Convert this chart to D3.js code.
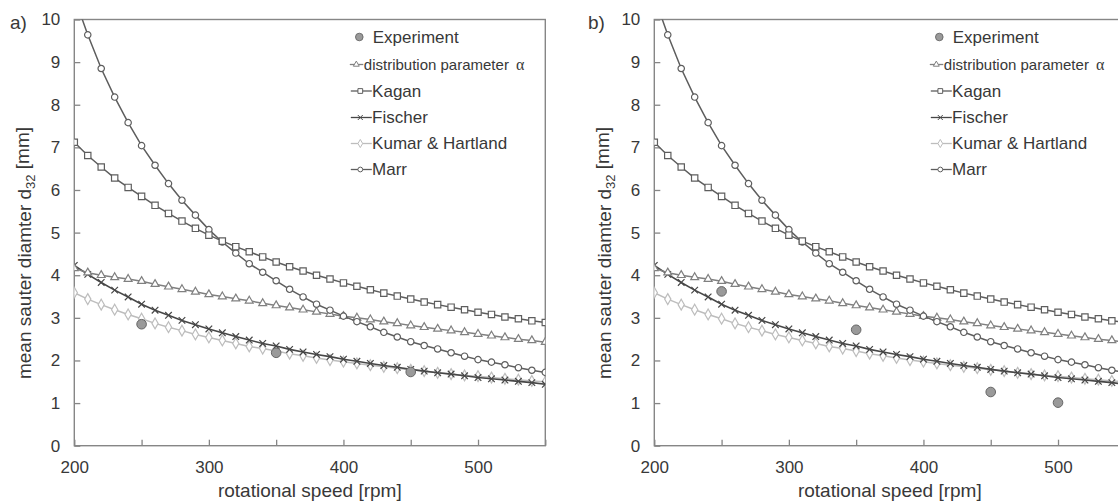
<!DOCTYPE html>
<html>
<head>
<meta charset="utf-8">
<script src="https://cdn.jsdelivr.net/npm/d3@7/dist/d3.min.js"></script>
<style>
  html, body { margin: 0; padding: 0; background: #fff; }
  svg { display: block; font-family: "Liberation Sans", Arial, sans-serif; }
</style>
</head>
<body>
<svg id="chart" width="1118" height="504"></svg>
<script>
// Rotational speed [rpm] at which the correlations are evaluated
const speed = [200, 210, 220, 230, 240, 250, 260, 270, 280, 290, 300, 310, 320, 330, 340, 350, 360, 370,
               380, 390, 400, 410, 420, 430, 440, 450, 460, 470, 480, 490, 500, 510, 520, 530, 540, 550];

// Mean Sauter diameter d32 [mm] predicted by each model
const alphaDist = [4.16, 4.06, 4.00, 3.95, 3.91, 3.86, 3.79, 3.73, 3.67, 3.61, 3.55, 3.50, 3.45, 3.40, 3.34, 3.29, 3.24, 3.19,
                   3.14, 3.09, 3.04, 3.00, 2.96, 2.91, 2.87, 2.82, 2.78, 2.74, 2.70, 2.66, 2.62, 2.58, 2.54, 2.50, 2.47, 2.43];
const kagan = [7.12, 6.81, 6.54, 6.28, 6.06, 5.85, 5.64, 5.45, 5.27, 5.10, 4.94, 4.80, 4.67, 4.55, 4.43, 4.31, 4.20, 4.10,
               4.00, 3.91, 3.82, 3.74, 3.66, 3.58, 3.51, 3.44, 3.37, 3.31, 3.25, 3.19, 3.13, 3.08, 3.02, 2.98, 2.93, 2.89];
const fischer = [4.23, 4.02, 3.83, 3.65, 3.49, 3.32, 3.18, 3.06, 2.94, 2.84, 2.74, 2.65, 2.56, 2.48, 2.40, 2.34, 2.26, 2.20,
                 2.14, 2.09, 2.03, 1.98, 1.93, 1.88, 1.84, 1.79, 1.75, 1.71, 1.68, 1.64, 1.60, 1.57, 1.54, 1.51, 1.48, 1.44];
const kumarHartland = [3.59, 3.44, 3.31, 3.19, 3.08, 2.98, 2.87, 2.78, 2.70, 2.61, 2.54, 2.47, 2.40, 2.33, 2.28, 2.22, 2.16, 2.11,
                       2.06, 2.01, 1.97, 1.93, 1.89, 1.85, 1.82, 1.78, 1.75, 1.71, 1.68, 1.65, 1.63, 1.60, 1.57, 1.55, 1.52, 1.50];
const marr = [10.53, 9.64, 8.85, 8.18, 7.58, 7.04, 6.58, 6.15, 5.76, 5.41, 5.07, 4.78, 4.52, 4.27, 4.07, 3.87, 3.67, 3.49,
              3.32, 3.18, 3.04, 2.91, 2.79, 2.66, 2.55, 2.44, 2.35, 2.27, 2.18, 2.10, 2.02, 1.96, 1.90, 1.83, 1.77, 1.72];

// Measured d32 values
const expSpeedA = [250, 350, 450];
const expValueA = [2.85, 2.18, 1.73];
const expSpeedB = [250, 350, 450, 500];
const expValueB = [3.62, 2.72, 1.26, 1.01];

// Axis ticks
const xTicks = [200, 250, 300, 350, 400, 450, 500, 550];
const xTickLabels = ["200", "", "300", "", "400", "", "500", ""];
const yTicks = [0, 1, 2, 3, 4, 5, 6, 7, 8, 9, 10];

const panelLabels = ["a)", "b)"];
const seriesNames = ["Experiment", "distribution parameter ", "Kagan", "Fischer", "Kumar & Hartland", "Marr"];

// ---------------------------------------------------------------
const svg = d3.select("#chart");
const frameColor = "#868686";
const textColor = "#383838";

const plotTop = 19.5, plotBottom = 445.7, plotW = 471;
const plotH = plotBottom - plotTop;
const x = d3.scaleLinear().domain([200, 550]).range([0, plotW]);
const y = d3.scaleLinear().domain([0, 10]).range([plotH, 0]);

// marker shapes
const symbolTypes = { triangle: d3.symbolTriangle, square: d3.symbolSquare, diamond: d3.symbolDiamond, circle: d3.symbolCircle };
const symbolSizes = { triangle: 27, square: 40, diamond: 34, circle: 32 };
function markerPath(kind, scale) {
  if (kind === "x") { const s = 3.3 * scale; return `M${-s},${-s}L${s},${s}M${-s},${s}L${s},${-s}`; }
  return d3.symbol().type(symbolTypes[kind]).size(symbolSizes[kind] * scale * scale)();
}

const models = [
  { values: kumarHartland, color: "#bdbdbd", width: 1.5, marker: "diamond", fill: "#fff" },
  { values: fischer,       color: "#474747", width: 1.6, marker: "x",       fill: "none" },
  { values: alphaDist,     color: "#808080", width: 1.5, marker: "triangle", fill: "#fff" },
  { values: marr,          color: "#5e5e5e", width: 1.5, marker: "circle",  fill: "#fff" },
  { values: kagan,         color: "#5e5e5e", width: 1.5, marker: "square",  fill: "#fff" }
];

const panels = [
  { ox: 74.3, labelX: 10, expS: expSpeedA, expV: expValueA },
  { ox: 654.3, labelX: 588, expS: expSpeedB, expV: expValueB }
];

const defs = svg.append("defs");

panels.forEach((p, pi) => {
  const g = svg.append("g").attr("transform", `translate(${p.ox},${plotTop})`);

  const clipId = "plotclip" + pi;
  defs.append("clipPath").attr("id", clipId)
    .append("rect").attr("x", 0).attr("y", 0).attr("width", plotW).attr("height", plotH);

  // y axis
  const yAxis = g.append("g").call(
    d3.axisLeft(y).tickValues(yTicks).tickSizeInner(-6).tickSizeOuter(0).tickPadding(14).tickFormat(d3.format("d"))
  );
  // x axis
  const xAxis = g.append("g").attr("transform", `translate(0,${plotH})`).call(
    d3.axisBottom(x).tickValues(xTicks).tickSizeInner(-6).tickSizeOuter(0).tickPadding(15.5)
      .tickFormat((d, i) => xTickLabels[i])
  );
  [yAxis, xAxis].forEach(a => {
    a.select(".domain").remove();
    a.selectAll("line").attr("stroke", frameColor).attr("stroke-width", 1.3);
    a.selectAll("text").attr("fill", textColor).style("font-size", "17px")
      .style("font-family", "'Liberation Sans', Arial, sans-serif");
  });

  // plot frame
  g.append("rect").attr("x", 0).attr("y", 0).attr("width", plotW).attr("height", plotH)
    .attr("fill", "none").attr("stroke", frameColor).attr("stroke-width", 1.4);

  // model curves
  const plot = g.append("g").attr("clip-path", `url(#${clipId})`);
  models.forEach(m => {
    const pts = speed.map((s, i) => [x(s), y(m.values[i])]);
    plot.append("path").attr("d", d3.line()(pts))
      .attr("fill", "none").attr("stroke", m.color).attr("stroke-width", m.width);
    plot.selectAll(null).data(pts).enter().append("path")
      .attr("transform", d => `translate(${d[0]},${d[1]})`)
      .attr("d", markerPath(m.marker, 1))
      .attr("fill", m.fill).attr("stroke", m.color).attr("stroke-width", 1.2);
  });

  // measured points
  plot.selectAll(null).data(p.expS.map((s, i) => [s, p.expV[i]])).enter().append("circle")
    .attr("cx", d => x(d[0])).attr("cy", d => y(d[1])).attr("r", 4.8)
    .attr("fill", "#9a9a9a").attr("stroke", "#666").attr("stroke-width", 1);

  // axis titles
  svg.append("text").attr("x", p.ox + plotW / 2).attr("y", 497)
    .attr("text-anchor", "middle").attr("fill", textColor).style("font-size", "19px")
    .text("rotational speed [rpm]");
  const yt = svg.append("text")
    .attr("transform", `translate(${p.ox - 43.3},253) rotate(-90)`)
    .attr("text-anchor", "middle").attr("fill", textColor).style("font-size", "19px");
  yt.append("tspan").text("mean sauter diamter d");
  yt.append("tspan").attr("dy", "0.3em").style("font-size", "13px").text("32");
  yt.append("tspan").attr("dy", "-0.3em").text(" [mm]");

  // panel label
  svg.append("text").attr("x", p.labelX).attr("y", 28.5).attr("fill", textColor)
    .style("font-size", "19px").text(panelLabels[pi]);

  // legend
  const lg = svg.append("g").attr("transform", `translate(${p.ox},0)`);
  const rows = [37, 64.5, 91, 117.5, 143.5, 169.5];
  lg.append("circle").attr("cx", 285).attr("cy", rows[0]).attr("r", 3.8)
    .attr("fill", "#9a9a9a").attr("stroke", "#666").attr("stroke-width", 0.9);
  lg.append("text").attr("x", 298.4).attr("y", rows[0]).attr("dy", "0.35em")
    .attr("fill", textColor).style("font-size", "17px").text(seriesNames[0]);

  const legendModels = [
    { m: models[2], row: 1, x0: 275.5, x1: 289, mx: 282, tx: 289.5, size: "15px" },
    { m: models[4], row: 2, x0: 276.5, x1: 297.5, mx: 286, tx: 297.8, size: "17px" },
    { m: models[1], row: 3, x0: 276.5, x1: 297.5, mx: 286, tx: 297.8, size: "17px" },
    { m: models[0], row: 4, x0: 276.5, x1: 297.5, mx: 286, tx: 297.8, size: "17px" },
    { m: models[3], row: 5, x0: 276.5, x1: 297.5, mx: 286, tx: 297.8, size: "17px" }
  ];
  legendModels.forEach(e => {
    const yy = rows[e.row];
    lg.append("line").attr("x1", e.x0).attr("x2", e.x1).attr("y1", yy).attr("y2", yy)
      .attr("stroke", e.m.color).attr("stroke-width", 1.3);
    lg.append("path").attr("transform", `translate(${e.mx},${yy})`)
      .attr("d", markerPath(e.m.marker, 0.75))
      .attr("fill", e.m.fill).attr("stroke", e.m.color).attr("stroke-width", 1);
    const t = lg.append("text").attr("x", e.tx).attr("y", yy).attr("dy", "0.35em")
      .attr("fill", textColor).style("font-size", e.size).text(seriesNames[e.row]);
    if (e.row === 1) {
      t.append("tspan").style("font-family", "'Liberation Serif', 'Times New Roman', serif")
        .style("font-size", "16px").attr("dx", 3).text("α");
    }
  });
});
</script>
</body>
</html>
